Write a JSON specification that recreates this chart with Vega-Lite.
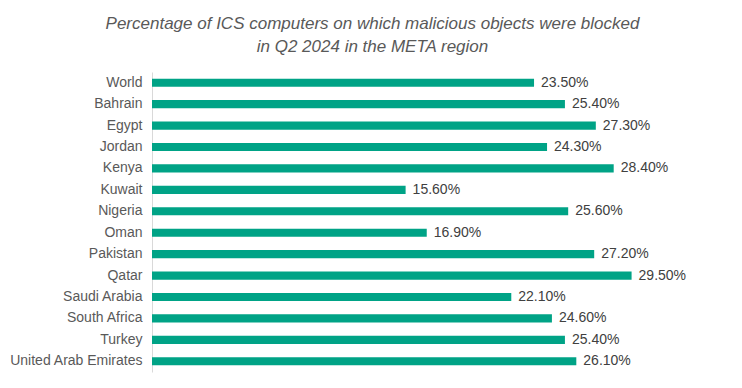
{
  "$schema": "https://vega.github.io/schema/vega-lite/v6.json",
  "width": 569,
  "height": 300,
  "autosize": {"type": "none"},
  "padding": {"left": 152, "top": 72, "right": 21, "bottom": 16},
  "background": "white",
  "title": {
    "text": ["Percentage of ICS computers on which malicious objects were blocked", "in Q2 2024 in the META region"],
    "font": "Liberation Sans",
    "fontSize": 17,
    "fontStyle": "italic",
    "fontWeight": "normal",
    "color": "#595959",
    "anchor": "middle",
    "lineHeight": 23,
    "dx": -64,
    "offset": 16
  },
  "data": {
    "values": [
      {"country": "World", "value": 0.235},
      {"country": "Bahrain", "value": 0.254},
      {"country": "Egypt", "value": 0.273},
      {"country": "Jordan", "value": 0.243},
      {"country": "Kenya", "value": 0.284},
      {"country": "Kuwait", "value": 0.156},
      {"country": "Nigeria", "value": 0.256},
      {"country": "Oman", "value": 0.169},
      {"country": "Pakistan", "value": 0.272},
      {"country": "Qatar", "value": 0.295},
      {"country": "Saudi Arabia", "value": 0.221},
      {"country": "South Africa", "value": 0.246},
      {"country": "Turkey", "value": 0.254},
      {"country": "United Arab Emirates", "value": 0.261}
    ]
  },
  "encoding": {
    "y": {
      "field": "country",
      "type": "nominal",
      "sort": null,
      "scale": {"paddingInner": 0.62, "paddingOuter": 0.31},
      "axis": {
        "title": null,
        "ticks": false,
        "domainColor": "#d9d9d9",
        "labelFont": "Liberation Sans",
        "labelFontSize": 14,
        "labelColor": "#595959",
        "labelPadding": 10
      }
    },
    "x": {
      "field": "value",
      "type": "quantitative",
      "scale": {"domain": [0, 0.35]},
      "axis": null
    }
  },
  "layer": [
    {"mark": {"type": "bar", "color": "#00A386"}},
    {
      "mark": {"type": "text", "align": "left", "dx": 7, "font": "Liberation Sans", "fontSize": 14, "color": "#404040"},
      "encoding": {"text": {"field": "value", "type": "quantitative", "format": ".2%"}}
    }
  ],
  "config": {"view": {"stroke": null}}
}
